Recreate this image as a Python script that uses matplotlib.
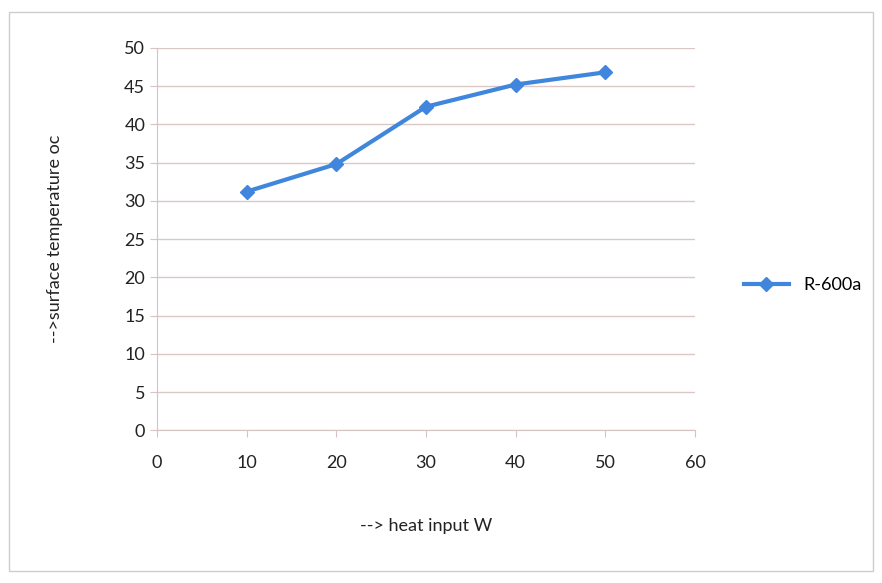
import matplotlib
matplotlib.use("Agg")
import matplotlib.pyplot as plt

# readings from the chart
heat_input = [10, 20, 30, 40, 50]
surface_temp = [31.2, 34.8, 42.3, 45.2, 46.8]
series_name = "R-600a"

x_ticks = [0, 10, 20, 30, 40, 50, 60]
y_ticks = [0, 5, 10, 15, 20, 25, 30, 35, 40, 45, 50]

plt.rcParams['font.family'] = ['Lato', 'DejaVu Sans']

fig = plt.figure(figsize=(8.82, 5.83), dpi=100)
ax = fig.add_axes([0.178, 0.262, 0.61, 0.656])

ax.plot(heat_input, surface_temp, color='#3f86dc', lw=3, marker='D',
        ms=7, mec='#3f86dc', mfc='#3f86dc', label=series_name)

ax.set_xlim(0, 60)
ax.set_ylim(0, 50)
ax.set_xticks(x_ticks)
ax.set_yticks(y_ticks)
ax.grid(axis='y', color='#d9c8c4', lw=1)
ax.set_axisbelow(True)

for side in ['top', 'right']:
    ax.spines[side].set_visible(False)
for side in ['left', 'bottom']:
    ax.spines[side].set_color('#d6c4c0')
ax.tick_params(axis='both', colors='#d6c4c0', labelcolor='#222222',
               labelsize=13, length=5, direction='out')
ax.tick_params(axis='x', pad=13)

ax.set_xlabel('--> heat input W', fontsize=13, color='#222222', labelpad=34)
ax.set_ylabel('-->surface temperature oc', fontsize=13, color='#222222', labelpad=44)

ax.legend(loc='center left', bbox_to_anchor=(1.06, 0.38), frameon=False,
          fontsize=13, handlelength=2.5)

fig.patches.append(plt.Rectangle((0.01, 0.02), 0.98, 0.96, transform=fig.transFigure,
                                 fill=False, ec='#cccccc', lw=1))

fig.savefig('out.png', dpi=100, facecolor='white')
